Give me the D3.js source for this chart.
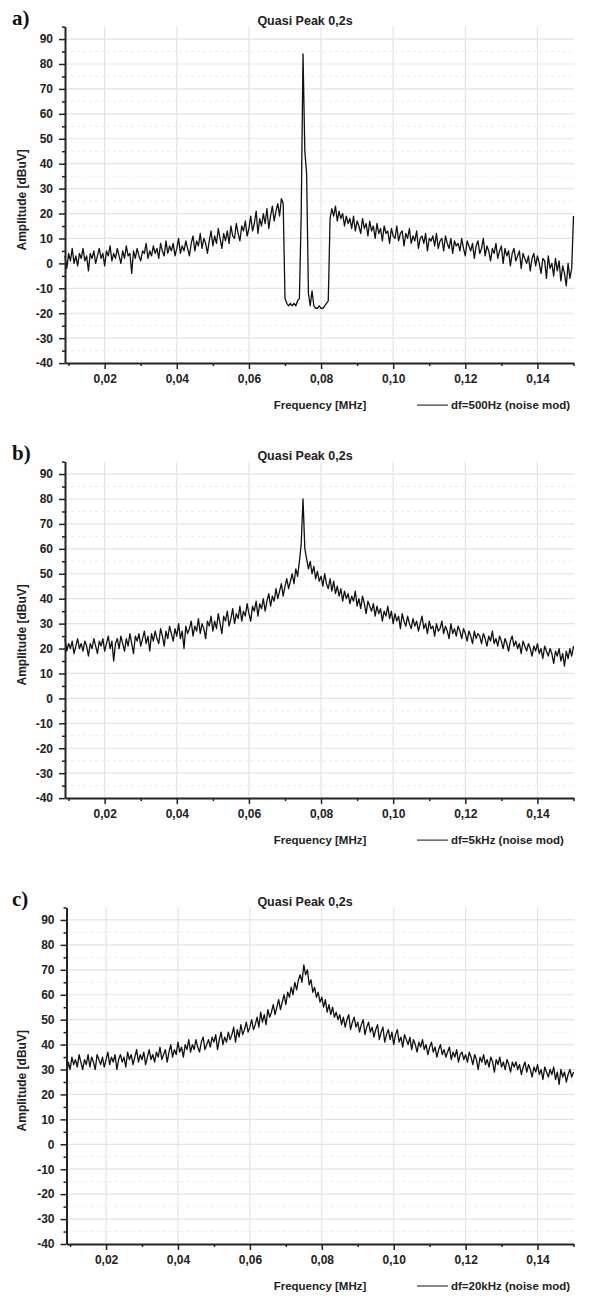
<!DOCTYPE html>
<html><head><meta charset="utf-8">
<script src="https://cdn.jsdelivr.net/npm/d3@7"></script>
<style>body{margin:0;background:#fff}svg{display:block}</style>
</head><body>
<script>
const freqStart = 0.009, freqStep = 0.0005;
const yTicks = [90,80,70,60,50,40,30,20,10,0,-10,-20,-30,-40];
const xTicks = [0.02,0.04,0.06,0.08,0.10,0.12,0.14];
const panelLetters = ["a)","b)","c)"];
const panelTitles = ["Quasi Peak 0,2s","Quasi Peak 0,2s","Quasi Peak 0,2s"];
const legendLabels = ["df=500Hz (noise mod)","df=5kHz (noise mod)","df=20kHz (noise mod)"];

const ampA = [
3,-2,4,1,6,0,3,-1,4,2,
6,1,3,-3,4,2,5,0,3,6,
2,4,-1,5,3,7,1,4,2,6,
3,0,5,2,7,3,4,-4,5,2,
6,3,1,5,4,8,2,5,3,7,
4,6,2,8,5,3,9,4,7,5,
8,3,6,10,4,7,5,9,6,3,
8,11,5,9,7,12,6,10,8,4,
9,13,7,11,8,14,10,6,12,9,
13,8,15,11,10,16,12,9,15,13,
17,11,14,19,13,16,21,12,18,15,
20,16,22,14,19,23,17,21,24,19,
26,24,-14,-16,-17,-16,-17,-16,-17,-15,
-14,20,84,45,36,-12,-17,-11,-17,-18,
-18,-17,-18,-18,-17,-16,-15,18,
22,19,23,17,21,18,20,15,19,16,
18,14,19,13,17,15,12,18,14,16,
11,17,13,15,10,16,12,14,9,15,
12,13,8,14,11,10,15,9,12,13,
7,12,10,14,8,11,9,13,6,10,
11,8,12,5,10,9,11,7,12,6,
9,10,5,11,8,6,10,4,9,7,
8,5,10,6,3,9,7,5,8,2,
7,9,4,6,10,3,7,5,1,6,
4,8,2,5,7,0,6,3,5,-1,
4,6,1,3,5,-2,4,2,0,3,
-3,2,4,-1,3,0,-4,2,1,-6,
3,-2,0,-5,2,-3,1,-7,-1,-4,
-9,0,-6,-2,19];

const ampB = [
24,19,22,20,23,18,21,24,20,22,
19,23,21,17,22,20,24,21,18,23,
21,24,19,22,25,20,23,15,22,24,
20,25,22,19,24,21,26,22,18,25,
23,26,21,24,27,22,25,19,26,23,
27,24,22,28,25,21,27,24,29,26,
23,28,25,30,24,27,20,29,26,28,
31,25,29,27,32,26,30,28,24,31,
29,33,27,31,28,34,30,26,33,31,
35,29,32,36,30,34,32,37,31,35,
33,38,34,31,37,35,39,33,38,36,
40,35,39,42,37,41,39,44,40,43,
46,41,45,48,44,47,50,46,52,49,
55,62,80,60,56,52,55,50,53,48,
51,47,49,45,50,46,44,48,43,47,
42,45,41,44,39,43,40,42,38,41,
39,43,37,40,36,41,38,34,39,37,
35,38,33,37,34,36,31,35,33,37,
32,35,30,34,31,33,28,34,31,29,
33,30,28,32,29,31,27,30,33,28,
30,26,31,28,29,25,30,27,28,31,
26,29,27,24,30,26,28,25,29,27,
24,28,26,23,27,25,22,27,24,26,
25,22,26,24,21,25,23,27,22,24,
21,25,23,20,24,22,19,23,25,21,
23,20,22,18,23,21,19,22,20,17,
21,19,22,18,20,16,21,19,17,20,
18,14,19,17,20,15,18,13,19,16,
20,17,21];

const ampC = [
27,33,30,35,32,34,31,36,33,30,
34,32,36,31,35,33,30,36,34,32,
35,31,34,37,32,35,33,36,30,34,
36,33,35,31,37,34,36,32,35,38,
33,36,34,37,32,35,38,34,36,33,
37,35,39,34,36,38,33,37,40,35,
38,36,41,37,39,35,40,38,42,37,
40,38,42,39,37,41,43,38,40,42,
39,43,41,44,38,42,45,40,43,41,
45,42,44,47,41,46,43,48,44,46,
49,45,47,50,46,48,51,47,53,49,
52,48,54,51,53,56,52,55,58,54,
57,60,56,61,59,63,60,65,62,66,
68,65,72,68,70,64,66,61,63,59,
61,57,59,55,58,53,56,52,55,51,
53,50,52,48,51,47,50,52,46,49,
51,47,49,45,48,50,44,47,49,45,
47,43,46,48,42,45,47,41,44,46,
42,45,40,44,46,41,43,39,44,42,
40,43,38,42,40,37,41,39,42,38,
40,36,39,41,37,39,35,38,40,36,
38,35,37,39,34,37,35,38,33,36,
37,34,36,33,37,35,32,36,34,30,
35,33,36,32,34,31,35,33,29,34,
32,35,31,33,30,34,32,29,33,31,
33,30,32,28,31,33,29,32,30,27,
31,29,32,28,30,26,31,29,27,30,
28,31,26,29,24,30,27,29,25,28,
30,27,29];

const series = [ampA, ampB, ampC];
const panelTops = [26.6, 461.6, 907.5];
const panelLefts = [65, 65, 66.5];
const plotRight = 573.5, plotH = 336.5;
const FONT = "'Liberation Sans', Arial, sans-serif";

const svg = d3.select("body").append("svg").attr("width",602).attr("height",1299);
svg.append("rect").attr("width",602).attr("height",1299).attr("fill","#fff");

series.forEach((vals, p) => {
  const top = panelTops[p], left = panelLefts[p];
  const g = svg.append("g").attr("transform", `translate(0,${top})`);
  const x = d3.scaleLinear().domain([0.009, 0.15]).range([left, plotRight]);
  const y = d3.scaleLinear().domain([-40, 95]).range([plotH, 0]);

  const minorY = d3.range(-35, 95, 10);
  g.selectAll(".gmin").data(minorY).enter().append("line")
    .attr("x1", left).attr("x2", plotRight + 1)
    .attr("y1", d => y(d)).attr("y2", d => y(d))
    .attr("stroke", "#ededed").attr("stroke-width", 1).attr("stroke-dasharray", "3,3");
  g.selectAll(".gmaj").data(yTicks.filter(d => d !== -40)).enter().append("line")
    .attr("x1", left).attr("x2", plotRight + 1)
    .attr("y1", d => y(d)).attr("y2", d => y(d))
    .attr("stroke", "#e3e3e3").attr("stroke-width", 1.2);
  g.selectAll(".gv").data(xTicks).enter().append("line")
    .attr("x1", d => x(d)).attr("x2", d => x(d))
    .attr("y1", y(95)).attr("y2", y(-40))
    .attr("stroke", "#e3e3e3").attr("stroke-width", 1.2);

  const line = d3.line()
    .x((d, i) => x(freqStart + i * freqStep))
    .y(d => y(d));
  g.append("path").datum(vals).attr("d", line)
    .attr("fill", "none").attr("stroke", "#111").attr("stroke-width", 1.3)
    .attr("stroke-linejoin", "round");

  const yMinor = d3.axisLeft(y).tickValues(d3.range(-35, 95, 10).concat([95])).tickSize(3).tickFormat("").tickSizeOuter(0);
  const gym = g.append("g").attr("transform", `translate(${left},0)`).call(yMinor);
  gym.select(".domain").remove();
  gym.selectAll(".tick line").attr("stroke", "#222").attr("stroke-width", 1.5);
  const yAxis = d3.axisLeft(y).tickValues(yTicks).tickSize(6).tickPadding(6).tickSizeOuter(0)
    .tickFormat(d => String(d));
  const gy = g.append("g").attr("transform", `translate(${left},0)`).call(yAxis);
  gy.select(".domain").attr("stroke", "#222").attr("stroke-width", 2);
  gy.selectAll(".tick line").attr("stroke", "#222").attr("stroke-width", 1.5);
  gy.selectAll(".tick text").attr("font-family", FONT).attr("font-weight", "bold")
    .attr("font-size", "12px").attr("fill", "#222");

  const xMinor = d3.axisBottom(x).tickValues([0.01,0.03,0.05,0.07,0.09,0.11,0.13,0.15]).tickSize(3).tickFormat("").tickSizeOuter(0);
  const gxm = g.append("g").attr("transform", `translate(0,${plotH})`).call(xMinor);
  gxm.select(".domain").remove();
  gxm.selectAll(".tick line").attr("stroke", "#222").attr("stroke-width", 1.5);
  const xAxis = d3.axisBottom(x).tickValues(xTicks).tickSize(6).tickPadding(5).tickSizeOuter(0)
    .tickFormat(d => d.toFixed(2).replace(".", ","));
  const gx = g.append("g").attr("transform", `translate(0,${plotH})`).call(xAxis);
  gx.select(".domain").attr("stroke", "#222").attr("stroke-width", 2);
  gx.selectAll(".tick line").attr("stroke", "#222").attr("stroke-width", 1.5);
  gx.selectAll(".tick text").attr("font-family", FONT).attr("font-weight", "bold")
    .attr("font-size", "12px").attr("fill", "#222");

  g.append("text").attr("x", 12).attr("y", -1.5).text(panelLetters[p])
    .attr("font-family", "'Liberation Serif', 'Times New Roman', serif").attr("font-weight", "bold")
    .attr("font-size", "21px").attr("fill", "#111");
  g.append("text").attr("x", 305).attr("y", -2).attr("text-anchor", "middle").text(panelTitles[p])
    .attr("font-family", FONT).attr("font-weight", "bold").attr("font-size", "12.5px").attr("fill", "#222");
  g.append("text").attr("transform", `translate(26,${plotH/2 + 5}) rotate(-90)`)
    .attr("text-anchor", "middle").text("Amplitude [dBuV]")
    .attr("font-family", FONT).attr("font-weight", "bold").attr("font-size", "12px").attr("fill", "#222");
  g.append("text").attr("x", 320).attr("y", plotH + 46).attr("text-anchor", "middle").text("Frequency [MHz]")
    .attr("font-family", FONT).attr("font-weight", "bold").attr("font-size", "11.5px").attr("fill", "#222");
  g.append("line").attr("x1", 417).attr("x2", 448).attr("y1", plotH + 42).attr("y2", plotH + 42)
    .attr("stroke", "#111").attr("stroke-width", 1);
  g.append("text").attr("x", 451).attr("y", plotH + 46).text(legendLabels[p])
    .attr("font-family", FONT).attr("font-weight", "bold").attr("font-size", "11.5px").attr("fill", "#222");
});
</script>
</body></html>
